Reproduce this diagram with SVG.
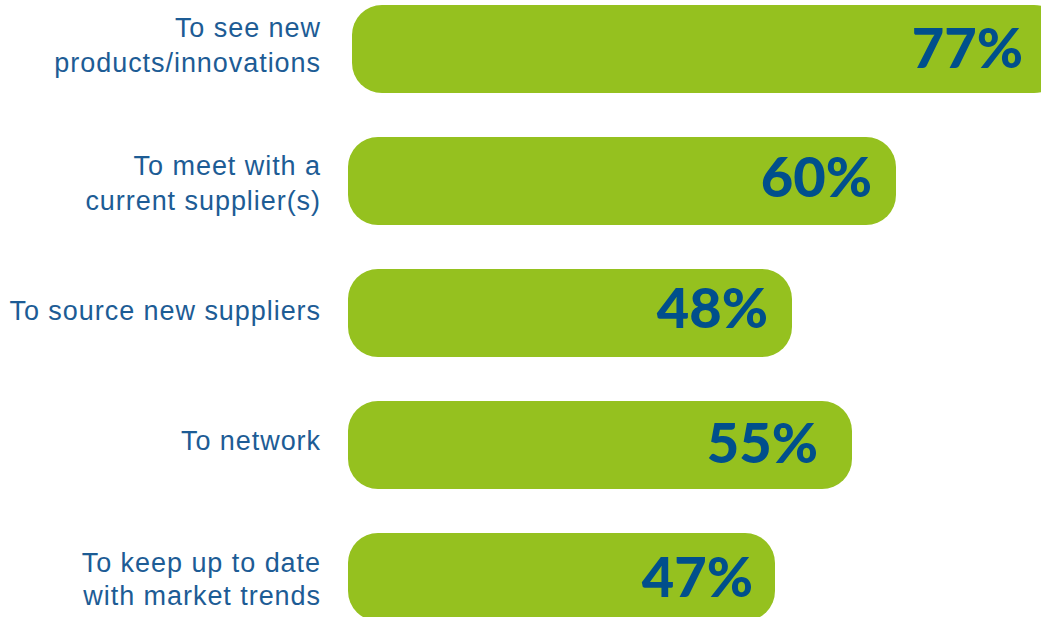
<svg xmlns="http://www.w3.org/2000/svg" width="1041" height="617" viewBox="0 0 1041 617">
<style>
.bar{fill:#95c11f}
.lbl{font-family:"Liberation Sans",Arial,sans-serif;font-size:27px;fill:#1d5c95;text-anchor:end;letter-spacing:0.95px}
.pct{font-family:Lato,"Liberation Sans",sans-serif;font-weight:900;font-size:56px;fill:#004f8c;text-anchor:end}
</style>
<rect width="1041" height="617" fill="#ffffff"/>
<g id="row1">
<rect class="bar" x="352" y="5" width="712" height="88" rx="30"/>
<text class="lbl" x="321" y="36.5">To see new</text>
<text class="lbl" x="321" y="72">products/innovations</text>
<text class="pct" x="1023" y="68">77%</text>
</g>
<g id="row2">
<rect class="bar" x="348" y="137" width="548" height="88" rx="30"/>
<text class="lbl" x="321" y="175">To meet with a</text>
<text class="lbl" x="321" y="209.5">current supplier(s)</text>
<text class="pct" x="872" y="197">60%</text>
</g>
<g id="row3">
<rect class="bar" x="348" y="269" width="444" height="88" rx="30"/>
<text class="lbl" x="321" y="320">To source new suppliers</text>
<text class="pct" x="768" y="328">48%</text>
</g>
<g id="row4">
<rect class="bar" x="348" y="401" width="504" height="88" rx="30"/>
<text class="lbl" x="321" y="450">To network</text>
<text class="pct" x="818" y="463">55%</text>
</g>
<g id="row5">
<rect class="bar" x="348" y="533" width="427" height="88" rx="30"/>
<text class="lbl" x="321" y="571.5">To keep up to date</text>
<text class="lbl" x="321" y="605">with market trends</text>
<text class="pct" x="753" y="597">47%</text>
</g>
<g id="connectors"/>
</svg>
